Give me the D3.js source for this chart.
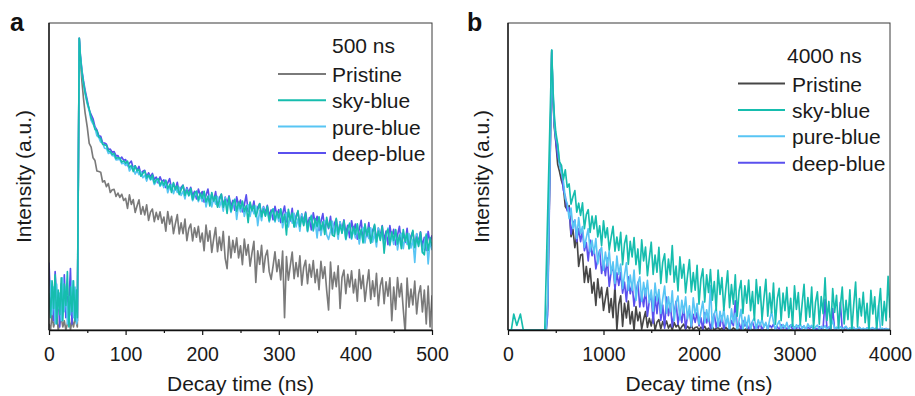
<!DOCTYPE html>
<html><head><meta charset="utf-8">
<script src="https://cdn.jsdelivr.net/npm/d3@7/dist/d3.min.js"></script>
<style>
html,body{margin:0;padding:0;background:#fff;}
svg{display:block;font-family:"Liberation Sans",Arial,Helvetica,sans-serif;}
</style></head>
<body>
<svg id="chart" width="915" height="396"></svg>
<script>
// ---------- DATA ----------
const seriesNames = ["Pristine", "sky-blue", "pure-blue", "deep-blue"];
const ticksA = [0, 100, 200, 300, 400, 500];
const minorA = [50, 150, 250, 350, 450];
const ticksB = [0, 1000, 2000, 3000, 4000];
const minorB = [500, 1500, 2500, 3500];
const windowA = "500 ns";
const windowB = "4000 ns";

// Panel a: time channels (ns)
const timeA = d3.range(0, 37, 2).concat([37, 39.5, 41, 43, 45, 47, 50]).concat(d3.range(52.5, 500.1, 2.5));
const skyA = [12,4,16,7,18,2,13,5,17,3,15,8,19,1,14,6,16,3,13, 4,95,89,84,80.5,77.5,74,
  72.0,69.1,67.8,65.4,64.9,62.9,62.4,60.5,60.3,60.1,58.3,58.2,57.2,57.5,55.9,56.1,56.0,54.7,55.1,54.3,
  55.0,52.9,53.6,51.6,53.5,51.8,52.3,50.1,51.0,51.8,49.5,50.5,49.1,50.5,47.9,49.0,49.3,47.2,48.5,47.2,
  48.8,46.0,47.4,44.8,48.0,45.7,47.0,44.1,45.7,47.1,43.8,45.6,43.8,46.1,42.5,44.5,45.2,42.3,44.5,42.9,
  45.2,41.7,43.6,40.4,44.8,42.0,43.7,40.0,42.2,44.3,40.0,42.5,38.0,43.4,38.7,41.4,42.5,38.7,41.7,39.6,
  42.0,38.6,40.5,35.0,41.7,38.9,40.6,36.9,39.1,41.2,36.9,39.4,37.1,40.3,35.6,38.3,39.4,35.6,38.6,36.5,
  39.5,35.1,37.7,31.0,39.3,35.8,38.1,33.5,36.3,38.9,33.7,36.9,34.0,38.1,32.3,35.7,37.1,32.5,36.3,33.7,
  36.9,32.6,35.2,31.1,36.7,33.3,35.5,30.9,30.5,36.4,31.1,34.3,31.5,35.6,29.7,33.2,34.6,29.9,33.7,31.2,
  34.6,29.9,32.8,28.4,34.6,30.8,33.4,28.3,31.5,34.4,28.7,32.2,29.2,33.8,25.0,31.3,32.8,27.8,32.0,29.2,
  32.7,28.0,30.9,26.5,32.7,28.9,31.5,26.4,29.6,32.5,26.8,30.3,27.2,31.8,25.4,24.5,30.9,25.9,30.1,27.3];
const deepA = [22,8,14,3,19,10,12,1,15,6,18,4,11,9,20,2,13,7,12, 3,95,89.5,84.6,81.2,78.3,74.8,
  71.6,70.2,68.8,66.2,65.2,63.3,63.1,61.0,60.9,60.5,58.8,58.9,57.9,58.1,56.7,56.8,55.6,56.3,55.3,55.5,
  53.5,54.3,55.0,52.6,53.5,52.0,53.3,50.6,51.7,52.0,49.9,51.2,49.9,51.0,49.0,49.8,47.9,49.9,48.3,48.9,
  46.4,47.9,49.3,45.9,47.7,45.8,48.1,44.5,46.5,47.2,44.3,46.4,44.8,46.5,43.8,45.2,42.7,45.9,43.8,45.1,
  41.7,43.9,45.9,41.7,44.2,41.9,45.1,40.4,43.1,44.2,40.4,43.3,41.3,43.7,40.3,42.2,39.0,43.4,40.6,42.3,
  38.5,40.8,44.0,38.6,41.1,38.8,42.0,37.3,40.0,41.1,37.3,40.2,38.2,40.6,37.2,39.1,35.9,40.3,37.5,39.2,
  35.0,37.8,40.4,35.2,38.4,35.5,39.6,33.8,37.2,38.6,34.0,37.8,35.2,38.4,34.1,36.6,32.6,38.2,34.8,37.0,
  32.4,35.3,37.9,32.6,35.8,33.0,37.0,31.2,34.7,36.1,31.4,35.2,32.7,35.9,31.5,34.1,30.1,35.6,32.2,34.5,
  29.6,32.8,35.7,30.0,33.5,30.4,35.0,28.6,32.5,34.0,29.0,33.2,30.5,34.0,29.3,32.2,27.8,34.0,30.2,32.8,
  27.7,30.9,33.8,28.1,31.6,28.5,33.1,26.7,30.6,32.1,27.1,31.3,28.5,32.0,27.3,30.2,25.9,32.1,28.3,30.9];
const pureA = [8,16,5,14,2,15,7,12,3,17,6,14,2,11,5,16,4,14,2, 3,95,88.8,83.8,80.2,77.2,73.6,
  71.4,68.3,67.1,65.8,63.3,62.7,61.2,60.9,59.2,59.1,57.5,57.9,56.8,56.8,55.4,55.5,55.6,54.2,54.4,53.6,
  54.5,51.8,52.8,53.0,50.8,52.0,50.6,51.6,49.6,50.4,48.5,50.5,48.9,49.5,47.4,48.3,49.1,46.8,47.8,46.4,
  48.4,44.7,46.7,47.3,44.4,46.4,44.8,46.5,43.8,45.2,42.7,45.9,43.7,45.0,42.1,43.7,45.1,41.8,43.7,41.9,
  44.9,40.1,42.8,43.9,40.1,43.1,41.0,43.5,40.0,42.0,38.7,43.1,40.3,42.0,38.3,40.5,42.6,36.0,40.9,38.5,
  41.7,37.0,39.7,40.8,37.0,40.0,37.9,40.4,34.0,38.9,35.6,40.0,37.2,38.9,35.2,37.4,39.5,35.2,37.8,35.4,
  39.2,33.3,36.8,38.2,33.6,37.3,34.8,38.0,33.6,36.2,32.2,37.8,34.3,36.6,32.0,34.8,37.4,32.2,35.4,30.0,
  36.6,30.8,34.3,35.6,31.0,29.5,32.2,35.4,31.1,33.7,29.6,35.2,31.8,34.1,29.4,32.3,34.9,29.6,32.8,30.0,
  34.4,28.0,31.9,33.4,28.4,32.6,29.8,33.3,28.6,31.5,27.1,33.3,29.6,32.2,27.1,30.3,33.2,27.5,31.0,27.9,
  32.5,26.1,30.0,31.5,26.5,30.7,27.9,31.4,26.7,29.6,22.0,31.4,27.6,30.2,25.1,28.3,31.3,21.5,29.1,26.0];
const pristineA = [2,0,5,1,3,6,0,2,4,1,3,0,2,5,0,3,1,4,2, 1,95,88,81,75.5,71,66,
  60.8,59.6,56.1,55.2,51.8,51.6,51.4,48.2,48.6,46.7,47.7,44.8,45.7,45.8,43.5,44.6,43.2,44.2,42.2,42.9,
  39.6,44.0,40.9,42.5,38.3,40.5,42.4,37.7,40.2,37.5,40.8,35.7,38.4,39.4,35.3,38.3,36.0,38.5,34.8,36.8,
  32.2,38.6,34.5,37.0,31.4,34.7,37.6,31.3,34.9,31.4,36.1,29.1,33.0,34.5,29.0,33.3,30.2,33.8,28.7,31.6,
  25.8,34.2,28.9,32.3,25.3,29.7,33.4,25.5,30.3,25.9,32.1,23.3,20.0,30.5,23.5,29.2,25.3,30.0,23.5,27.4,
  21.3,29.6,24.4,27.8,20.8,25.1,28.9,15.5,25.8,21.4,27.6,18.8,24.0,26.0,19.0,16.5,20.8,25.5,19.0,22.9,
  16.3,25.7,4.0,23.9,16.2,21.0,25.4,16.7,22.0,17.4,24.2,14.6,20.4,22.7,15.1,21.4,17.2,22.6,15.4,19.8,
  13.1,22.4,16.8,20.6,12.9,6.5,22.1,13.4,18.8,14.1,20.9,7.0,17.1,19.5,11.8,18.1,14.0,19.3,12.1,16.5,
  9.4,19.7,13.5,17.8,9.3,14.8,19.6,10.0,16.0,10.9,18.5,7.9,14.4,17.0,8.6,15.7,11.0,17.0,3.0,14.0,
  6.7,17.1,10.8,15.1,6.7,-1.0,16.9,7.4,13.3,8.2,15.9,5.2,11.7,14.4,5.9,13.0,2.0,14.3,1.0,11.3];

// Panel b: time channels (ns)
const timeB = [0,35,60,92,130,160,300,385,400,415,430,445,458,470,485,500].concat(d3.range(520, 4001, 20));
const skyB = [0,0,5.2,1.5,5.2,0,0,0,18.7,37.4,56,75,91.2,79,70,64.5,
  60.6,54.8,53.6,49.0,52.2,46.5,47.6,41.0,43.4,45.4,
  38.4,41.3,37.3,41.4,33.0,37.6,39.2,31.8,37.1,32.9,
  37.2,30.3,33.9,27.5,35.6,30.1,33.3,26.1,30.2,33.8,
  25.7,30.3,25.9,31.8,21.3,28.1,30.8,21.4,28.9,23.8,
  30.1,21.3,26.4,18.3,29.4,22.5,27.0,17.7,23.5,28.6,
  18.1,24.4,18.8,26.9,15.2,22.1,24.8,15.5,23.1,18.0,
  27.5,15.6,20.8,12.7,23.8,16.9,21.4,12.1,17.8,22.9,
  12.4,18.7,13.0,21.1,8.4,16.6,19.9,9.1,18.0,12.2,
  19.7,9.7,15.8,6.4,19.5,11.6,17.1,6.4,13.2,19.3,
  7.3,14.8,8.4,18.0,4.5,12.7,16.1,5.4,14.4,8.7,
  16.3,6.3,12.5,3.2,16.4,8.6,14.1,3.4,10.3,16.5,
  4.5,12.0,5.6,15.3,1.9,10.2,13.6,3.0,12.0,6.3,
  13.9,4.1,10.3,1.2,14.4,6.7,12.2,1.7,8.6,14.9,
  2.9,10.6,4.2,14.0,0.6,9.0,12.4,1.9,10.9,5.3,
  17.0,3.1,9.3,0.2,13.5,5.7,11.3,0.7,7.7,14.0,
  2.0,9.7,3.4,13.1,-0.2,8.2,15.6,1.1,10.2,4.6,
  12.3,2.4,8.7,-0.4,12.9,5.2,10.8,0.2,7.2,13.5,
  1.6,9.3,3.0,17.5,4.0];
const pureB = [0,0,0,0,0,0,0,0,0,9.5,38,66,91.2,78,68,63,
  60.4,53.5,51.3,48.6,42.8,41.3,36.3,39.7,33.1,35.8,
  29.8,36.6,31.4,33.7,26.9,30.1,33.0,25.5,29.2,24.9,
  29.8,21.5,25.6,26.9,19.5,25.4,20.9,25.8,18.3,22.2,
  15.2,24.1,18.1,21.5,13.5,17.9,21.9,12.9,17.9,12.9,
  19.5,9.6,15.2,17.3,9.4,15.5,11.1,16.2,8.9,13.0,
  6.1,15.3,9.5,13.2,5.4,10.1,14.3,5.5,10.8,6.0,
  12.8,3.0,8.8,11.1,3.4,9.7,5.5,10.8,3.6,7.9,
  1.2,10.5,4.8,8.6,1.9,5.8,9.3,2.3,6.6,2.8,
  14.5,0.6,5.3,7.1,1.0,6.1,2.7,7.0,1.3,4.7,
  -0.6,6.9,2.4,5.4,-0.7,3.2,6.7,-0.2,4.2,0.6,
  4.8,0.0,2.9,3.9,0.4,3.3,1.5,3.6,0.8,2.5,
  0.0,3.4,6.0,2.6,0.2,1.7,3.0,0.4,1.8,0.6,
  2.5,0.0,1.4,2.0,0.2,
  1.7,0.8,2.0,0.3,1.4,0.0,2.0,0.9,1.5,0.1,
  1.0,1.6,0.2,1.2,0.5,1.4,0.0,1.0,1.3,3.0,
  0.4,0.9,0.0,1.1,0.3,0.8,1.2,0.1,0.7,0.2,
  0.9,0.0,0.6,0.9,0.1,0.6,0.2,0.7,0.0,0.5,
  0.8,0.1,0.4,8.0,0.3,0.6,0.0,0.4,0.2,0.3];
const deepB = [0,0,0,0,0,0,0,0,0,5,34,63,90.5,77,67,62,
  56.6,54.2,51.5,45.5,43.6,38.8,39.9,31.2,34.8,35.8,
  28.8,33.0,28.8,32.3,25.8,28.5,22.5,29.3,24.2,26.6,
  19.9,23.1,26.0,18.4,22.3,17.7,23.4,14.2,19.0,20.7,
  13.3,18.6,14.5,18.8,12.0,15.6,9.2,17.3,11.8,14.9,
  7.8,11.9,15.5,7.5,12.0,7.6,13.5,4.5,9.5,11.4,
  2.2,11.0,5.3,12.0,3.1,8.1,0.6,10.7,4.7,8.5,
  1.0,5.6,9.3,1.8,6.1,2.4,7.6,0.4,4.6,6.1,
  1.0,5.1,2.5,5.7,1.3,4.0,0.0,5.7,2.3,4.6,
  0.3,3.0,5.3,0.8,3.5,1.2,4.6,0.0,2.7,3.7,
  0.4,3.1,1.4,9.5,0.7,2.3,0.0,3.1,1.3,2.4,
  0.2,1.6,2.6,0.4,1.7,0.6,2.3,0.0,1.4,2.0,
  0.3,1.5,0.8,1.9,0.2,1.1,0.0,1.7,0.6,1.3,
  0.1,0.9,1.6,0.2,1.0,0.4,1.4,0.0,0.8,1.2,
  0.2,0.9,0.5,1.2,0.1,0.7,0.0,1.1,0.4,0.8,
  10.0,0.3,0.9,0.0,7.0,0.2,0.7,0.5,9.0,0.1,
  0.6,0.9,0.0,0.6,0.3,0.7,0.0,0.5,0.8,0.1,
  0.4,0.0,0.6,0.2,0.5,0.0,0.4,0.6,0.1,0.4,
  0.0,0.3,0.5,0.1,0.2];
const pristineB = [0,0,0,0,0,0,0,0,0,8,36,64,91,76,66,61.5,
  54.0,51.5,48.6,46.7,40.2,39.2,40.5,30.4,32.8,26.8,
  31.1,20.7,24.4,24.7,15.5,20.7,15.5,20.0,12.0,15.5,
  8.0,16.7,10.5,13.9,6.4,10.3,13.8,5.7,10.2,4.0,
  14.4,0.0,8.3,11.1,1.2,8.7,3.9,9.4,2.0,6.0,
  0.0,7.6,3.0,5.8,0.3,3.5,6.0,0.85,3.8,1.3,
  4.6,0.0,2.5,3.4,0.4,2.7,1.2,2.9,0.6,1.8,
  0.0,2.4,1.0,1.8,0.1,1.1,1.9,0.3,1.2,0.4,
  1.5,0.0,0.8,1.0,0.1,
  0.9,0.3,1.2,0.0,0.6,0.2,1.0,0.0,0.5,0.8,
  0.1,0.6,0.0,0.9,0.2,0.4,0.0,0.7,0.1,0.5,
  0.0,0.6,0.3,0.0,0.5,0.1,0.4,0.0,0.3,0.0,
  0.2,0.0,0.4,0.0,0.1,0.3,0.0,0.2,0.0,0.1,
  0,0,0,0,0,0,0,0,0,0,
  0,0,0,0,0,0,0,0,0,0,
  0,0,0,0,0,0,0,0,0,0,
  0,0,0,0,0,0,0,0,0,0,
  0,0,0,0,0,0,0,0,0,0,
  0,0,0,0,0,0,0,0,0,0];

// ---------- STYLE ----------
const FONT = '"Liberation Sans", Arial, Helvetica, sans-serif';
const colors = {"Pristine": "#7a7a7a", "sky-blue": "#16bdae", "pure-blue": "#58c5f4", "deep-blue": "#5a50ee"};
const colorsB = Object.assign({}, colors, {"Pristine": "#464646"});

const svg = d3.select("#chart");

function panel(cfg) {
  const x = d3.scaleLinear().domain([0, cfg.xmax]).range([cfg.x0, cfg.x1]);
  const y = d3.scaleLinear().domain([0, 100]).range([cfg.y1, cfg.y0]);
  const g = svg.append("g");
  const clipId = "clip-" + cfg.id;
  svg.append("clipPath").attr("id", clipId).append("rect")
    .attr("x", cfg.x0).attr("y", cfg.y0).attr("width", cfg.x1 - cfg.x0).attr("height", cfg.y1 - cfg.y0);

  const line = d3.line().x(d => x(d[0])).y(d => y(d[1]));
  const plot = g.append("g").attr("clip-path", `url(#${clipId})`);
  cfg.order.forEach(name => {
    const vals = cfg.series[name];
    const pts = cfg.time.map((t, i) => [t, vals[i]]).filter(p => p[1] !== undefined);
    plot.append("path").datum(pts)
      .attr("fill", "none").attr("stroke", cfg.colors[name])
      .attr("stroke-width", 1.65).attr("stroke-linejoin", "round")
      .attr("d", line);
  });

  // frame
  g.append("rect").attr("x", cfg.x0).attr("y", cfg.y0)
    .attr("width", cfg.x1 - cfg.x0).attr("height", cfg.y1 - cfg.y0)
    .attr("fill", "none").attr("stroke", "#3a3a3a").attr("stroke-width", 1);
  g.append("line").attr("x1", cfg.x0).attr("x2", cfg.x0).attr("y1", cfg.y0).attr("y2", cfg.y1)
    .attr("stroke", "#111").attr("stroke-width", 1.3);

  // x axis
  const ax = g.append("g").attr("transform", `translate(0,${cfg.y1})`)
    .call(d3.axisBottom(x).tickValues(cfg.ticks).tickSize(5).tickSizeOuter(0).tickPadding(12).tickFormat(d3.format("d")));
  ax.select(".domain").attr("stroke", "#111").attr("stroke-width", 1.3);
  ax.selectAll(".tick line").attr("stroke", "#111").attr("stroke-width", 1.2);
  ax.selectAll(".tick text").attr("font-family", FONT).attr("font-size", 19.5).attr("fill", "#1a1a1a");
  const mx = g.append("g").attr("transform", `translate(0,${cfg.y1})`)
    .call(d3.axisBottom(x).tickValues(cfg.minor).tickSize(3).tickFormat(""));
  mx.select(".domain").remove();
  mx.selectAll(".tick line").attr("stroke", "#111").attr("stroke-width", 1.2);

  // axis titles
  g.append("text").attr("x", (cfg.x0 + cfg.x1) / 2).attr("y", 391)
    .attr("text-anchor", "middle").attr("font-family", FONT).attr("font-size", 21).attr("fill", "#1a1a1a")
    .text("Decay time (ns)");
  g.append("text").attr("transform", `translate(${cfg.ytx},${(cfg.y0 + cfg.y1) / 2}) rotate(-90)`)
    .attr("text-anchor", "middle").attr("font-family", FONT).attr("font-size", 21).attr("fill", "#1a1a1a")
    .text("Intensity (a.u.)");

  // panel letter
  g.append("text").attr("x", cfg.letterX).attr("y", 31)
    .attr("font-family", FONT).attr("font-weight", "bold").attr("font-size", 25).attr("fill", "#111")
    .text(cfg.letter);

  // legend
  const lg = g.append("g");
  lg.append("text").attr("x", cfg.leg.titleX).attr("y", cfg.leg.titleY)
    .attr("font-family", FONT).attr("font-size", 21).attr("fill", "#1a1a1a").text(cfg.window);
  seriesNames.forEach((name, i) => {
    const ly = cfg.leg.y0 + i * cfg.leg.dy;
    lg.append("line").attr("x1", cfg.leg.lx0).attr("x2", cfg.leg.lx1).attr("y1", ly).attr("y2", ly)
      .attr("stroke", cfg.colors[name]).attr("stroke-width", 2);
    lg.append("text").attr("x", cfg.leg.tx).attr("y", ly + 8)
      .attr("font-family", FONT).attr("font-size", 21).attr("fill", "#1a1a1a").text(name);
  });
}

panel({
  id: "a", letter: "a", letterX: 10, window: windowA,
  x0: 49, x1: 432, y0: 23, y1: 330, xmax: 500, ytx: 31,
  ticks: ticksA, minor: minorA, time: timeA, colors: colors,
  series: {"Pristine": pristineA, "sky-blue": skyA, "pure-blue": pureA, "deep-blue": deepA},
  order: ["Pristine", "deep-blue", "pure-blue", "sky-blue"],
  leg: {titleX: 332, titleY: 53, y0: 74, dy: 26.3, lx0: 278, lx1: 326, tx: 332}
});

panel({
  id: "b", letter: "b", letterX: 467, window: windowB,
  x0: 508, x1: 890, y0: 23, y1: 330, xmax: 4000, ytx: 489,
  ticks: ticksB, minor: minorB, time: timeB, colors: colorsB,
  series: {"Pristine": pristineB, "sky-blue": skyB, "pure-blue": pureB, "deep-blue": deepB},
  order: ["Pristine", "deep-blue", "pure-blue", "sky-blue"],
  leg: {titleX: 787, titleY: 63, y0: 83.5, dy: 26.4, lx0: 738, lx1: 785, tx: 792}
});
</script>
</body></html>
